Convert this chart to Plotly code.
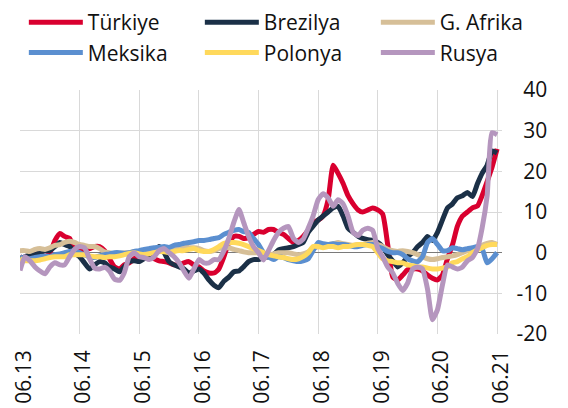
import pandas as pd
import plotly.graph_objects as go

months = pd.date_range("2013-06-01", periods=97, freq="MS")

turkiye = [-1, -1.5, -1, -0.5, 0, 0.5, 0, 3, 4.7, 4, 3.5, 1, 0.5, 0.8, 1, 1.5, 1.5, 0.5, -1.5, -3.5,
           -4, -3, -2.5, -1.5, -1, -1.2, -1, -1.5, -2, -2.2, -2.5, -3, -3, -2.5, -2.2, -3, -3.5, -4.5, -5, -5,
           -4, -1, 2.5, 4, 4, 3.5, 3.7, 4.5, 5.2, 5, 5.7, 5.7, 5, 4.5, 3.5, 2.5, 3, 4, 5.5, 7.4,
           8, 9, 13, 21.5, 19.5, 17, 14, 12, 10.5, 10, 10.5, 11, 10.5, 9.5, 2, -6, -6.7, -5.5, -4.2, -4,
           -4, -4.5, -5.5, -6.3, -6.7, -5.5, -1.5, 2, 6.5, 9, 10, 11, 11.5, 14, 17.5, 21, 25.5]

brezilya = [-1.5, -1, -0.5, -0.5, 0, 0.5, 0.5, 1.5, 2.5, 2, 1.5, 0, -1, -2.5, -4, -3, -2.2, -2.5, -3.5, -4,
            -4.7, -3.5, -2.2, -2, -2.2, -1.5, -0.5, 0.5, 1.5, 0, -2.2, -3, -3.5, -4, -5, -4.5, -4, -5, -6.7, -8,
            -8.6, -7, -6, -4.7, -4.5, -3.5, -2.2, -1.7, -1.7, -1.2, -1, -0.5, 0.7, 1, 1.2, 1.5, 2, 2.5, 5, 6.5,
            8, 9, 10, 11, 11.4, 9, 6, 5, 4, 3.5, 3.2, 3, 2.5, 1.5, -0.5, -2, -3.5, -2.5, -1, 0,
            1.5, 2.5, 4, 3, 5, 8, 11, 12, 13.5, 14, 14.8, 13.8, 17, 19.5, 21.5, 25, 24.5]

g_afrika = [0.5, 0.5, 0.3, 0.8, 1, 0.8, 1.2, 1.8, 2, 2.5, 2.8, 2.5, 2, 1.8, 1.5, 1.5, 1, 0.2, 0, -0.3,
            -0.2, 0, 0, 0.3, 0.2, 0.3, 0.5, 0.5, 0.8, 1, 1, 0.8, 1.2, 1.5, 1.2, 1.2, 1, 0.5, 0.3, 0.5,
            1, 1.2, 1.2, 0.8, 0.5, 0.2, 0, 0, 0, -0.3, -0.5, -0.3, 0, 0, 0, -0.3, -0.5, -0.3, 0.2, 1,
            1.5, 1.8, 2, 2.2, 2.5, 2.2, 2, 1.8, 2, 2, 2.3, 2.5, 2, 1.5, 0.8, 0.5, 0.3, 0.5, 0.3, 0,
            -0.5, -1, -1.5, -1.7, -1.5, -1.2, -1, -0.8, -0.5, 0, 0.5, 0.7, 1.2, 1.8, 2.3, 2.5, 2]

meksika = [-1, -1.5, -1.5, -1.2, -1, -0.8, -1, -0.5, -0.3, 0, 0.3, 0.5, 0, -0.5, -1, -1.2, -0.8, -0.5, -0.3, 0,
           0, -0.2, 0, 0.3, 0.5, 0.8, 1, 1.2, 1.3, 1.5, 1.3, 1.8, 2, 2.3, 2.5, 2.7, 3, 3, 3.2, 3.5,
           3.7, 4.5, 5, 5.5, 5.7, 5.2, 5, 3.5, 2, 0, -1, -1.7, -1, -1.2, -1.7, -2, -2.2, -2, -1.5, 0.5,
           2.5, 2.2, 2, 2.2, 2, 2, 1.8, 1.5, 1.5, 1.8, 2, 2, 1.5, 1, 0.3, 0, 0, -0.5, -1.5, -2,
           -2.2, -1, 2.5, 3.5, 2, 0.5, 0.5, 1.2, 1, 0.7, 1, 1.2, 1.5, 1, -2.5, -1.5, 0]

polonya = [-1.5, -2, -2, -2, -1.8, -1.5, -1.2, -1, -1, -1, -0.5, -0.5, -0.5, -0.5, -0.8, -1, -1, -1.2, -1, -1,
           -0.8, -0.5, -0.2, 0, -0.3, -0.5, -0.3, 0, 0.3, 0.2, 0, 0.3, 0.5, 0.5, 0.8, 1, 0.5, 0.3, 0.3, 0.8,
           1.5, 2.3, 2.5, 2.5, 2.3, 2, 1.5, 1, 0.5, 0, -0.5, -0.8, -1, -1.2, -1.5, -1.7, -1.5, -1, 0, 1.5,
           1.5, 1.2, 1.5, 1.5, 1.2, 1.5, 1.5, 1.8, 2, 2, 1.8, 1.5, 0, -1.5, -2, -2.2, -2.5, -2.5, -3, -3.2,
           -3.5, -3.5, -3.8, -4, -4, -3.8, -3.5, -2.5, -2.2, -1.5, -1, 0, 0.7, 1.2, 1.8, 2, 2]

rusya = [-4.4, -1, -2, -3.5, -4.5, -5.2, -3.5, -2.5, -3, -3, -1, 0.8, 1.5, 1.2, -1.5, -3.8, -4, -3.6, -4.5, -6.5,
         -6.8, -5, -1, 0, -1, -1.2, -1.7, -1, 0.5, 1, 0, -1, -2.5, -4.5, -6.3, -4, -1.7, -2.5, -2.5, -1.7,
         -1.7, 0.5, 3.5, 7.5, 10.6, 7.5, 4, 1.5, 0, -1.8, 0.5, 3, 5, 6, 6.4, 3.5, 2.5, 3.3, 6, 9,
         13, 14.5, 13.5, 11.4, 13, 12, 9, 5, 4.2, 5.5, 6, 5.5, 1, -1, -3.5, -5, -7.5, -9.3, -7.5, -4,
         -3.5, -4, -9, -16.5, -14, -8, -3, -3.5, -4, -3.5, -2, -1.2, 1, 6, 14, 29.5, 29]

series_names = ["Türkiye", "Brezilya", "G. Afrika", "Meksika", "Polonya", "Rusya"]
series_values = [turkiye, brezilya, g_afrika, meksika, polonya, rusya]
series_colors = ["#D9002F", "#1B3047", "#D6BF98", "#5B8FD0", "#FFD95C", "#B596BE"]

x_tick_dates = pd.date_range("2013-06-01", periods=9, freq="12MS")
x_tick_labels = ["06.13", "06.14", "06.15", "06.16", "06.17", "06.18", "06.19", "06.20", "06.21"]
y_ticks = [-20, -10, 0, 10, 20, 30, 40]
y_tick_labels = ["-20", "-10", "0", "10", "20", "30", "40"]
y_range = [-20, 40]

fig = go.Figure()
for name, vals, col in zip(series_names, series_values, series_colors):
    fig.add_trace(go.Scatter(x=months, y=vals, name=name, mode="lines",
                             line=dict(color=col, width=5, shape="spline", smoothing=0.5)))

x_range = ["2013-06-01", "2021-07-01"]
zero_pos = (0 - y_range[0]) / (y_range[1] - y_range[0])

fig.update_layout(
    width=560, height=400,
    margin=dict(l=12, r=0, t=82, b=74, autoexpand=False),
    paper_bgcolor="white", plot_bgcolor="white",
    font=dict(family="Open Sans", size=21, color="#111111"),
    legend=dict(orientation="h", x=0.007, y=1.3607, xanchor="left", yanchor="top",
                entrywidth=107, entrywidthmode="pixels", itemwidth=54,
                font=dict(size=21), bgcolor="rgba(0,0,0,0)", tracegroupgap=0),
    xaxis=dict(type="date", domain=[0, 482 / 548], range=x_range,
               tickvals=x_tick_dates, ticktext=x_tick_labels, tickangle=-90,
               showgrid=True, gridcolor="#D9D9D9", gridwidth=1,
               showline=False, zeroline=False, ticks="", ticklabelstandoff=11,
               ticklabelshift=4, automargin=False),
    xaxis2=dict(type="date", overlaying="x", anchor="free", position=zero_pos,
                domain=[0, 482 / 548], range=x_range, tickvals=x_tick_dates,
                showticklabels=False, showgrid=False, zeroline=False,
                showline=False, ticks="outside", ticklen=6, tickwidth=1,
                tickcolor="#6E6E6E", layer="below traces"),
    yaxis=dict(range=y_range, tickvals=y_ticks, ticktext=y_tick_labels,
               anchor="free", position=0.962, side="left",
               showgrid=True, gridcolor="#D9D9D9", gridwidth=1,
               zeroline=True, zerolinecolor="#7A7A7A", zerolinewidth=1,
               showline=False, ticks="", automargin=False),
)

fig.write_html("out.html")
